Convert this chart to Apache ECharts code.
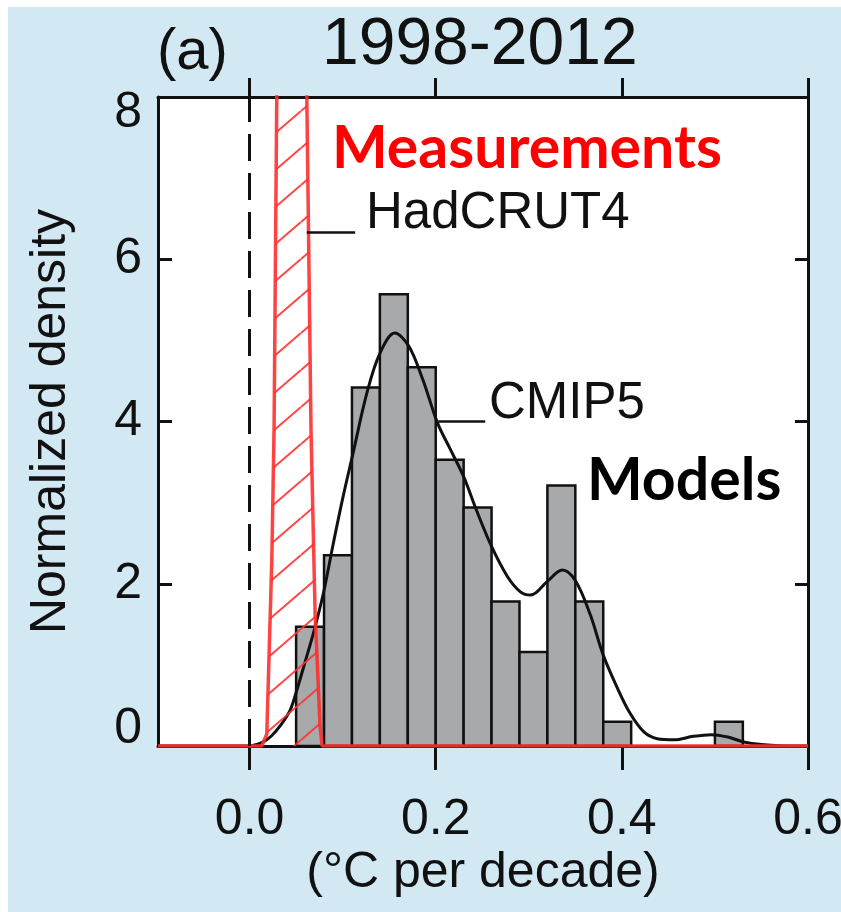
<!DOCTYPE html>
<html>
<head>
<meta charset="utf-8">
<script src="https://cdn.jsdelivr.net/npm/echarts@6/dist/echarts.min.js"></script>
<style>
  html, body { margin: 0; padding: 0; background: #fff; }
  #chart {
    width: 841px; height: 912px;
    background: linear-gradient(#d2e8f2, #d2e8f2) 8px 7px / 833px 905px no-repeat, #fff;
  }
</style>
</head>
<body>
<div id="chart"></div>
<script>
// CMIP5 trend histogram: left bin edges (°C per decade) and normalized densities
const binStarts  = [0.05, 0.08, 0.11, 0.14, 0.17, 0.20, 0.23, 0.26, 0.29, 0.32, 0.35, 0.38, 0.41, 0.44, 0.47, 0.50];
const binWidth   = 0.03;
const binDensity = [1.47, 2.35, 4.42, 5.57, 4.67, 3.53, 2.94, 1.78, 1.16, 3.21, 1.78, 0.30, 0, 0, 0, 0.30];

// smoothed CMIP5 density
const cmipTrend   = [-0.098, 0.000, 0.008, 0.016, 0.024, 0.033, 0.0435, 0.050, 0.060, 0.070, 0.080, 0.090, 0.100, 0.111, 0.126, 0.140, 0.156, 0.171, 0.186, 0.202, 0.216, 0.230, 0.244, 0.260, 0.277, 0.291, 0.302, 0.320, 0.336, 0.350, 0.366, 0.380, 0.395, 0.409, 0.424, 0.438, 0.456, 0.477, 0.496, 0.514, 0.531, 0.550, 0.585, 0.600];
const cmipDensity = [0, 0, 0.02, 0.06, 0.13, 0.25, 0.44, 0.66, 1.05, 1.45, 1.92, 2.50, 3.05, 3.60, 4.35, 4.84, 5.09, 4.93, 4.52, 3.98, 3.65, 3.32, 2.90, 2.46, 2.09, 1.90, 1.86, 2.03, 2.17, 2.04, 1.62, 1.12, 0.72, 0.40, 0.17, 0.09, 0.076, 0.12, 0.14, 0.11, 0.05, 0.02, 0, 0];

// HadCRUT4 trend density (runs off the top of the panel)
const hadTrend   = [-0.0984, 0.0131, 0.0185, 0.0239, 0.0263, 0.0292, 0.0296, 0.0608, 0.0615, 0.0660, 0.0704, 0.0758, 0.0780, 0.600];
const hadDensity = [0, 0, 0.15, 2.30, 3.90, 8.00, 8.60, 8.60, 8.00, 3.90, 1.63, 0.23, 0, 0];

// label leader lines
const hadLeaderX  = [0.0615, 0.1134];
const hadLeaderY  = [6.33, 6.33];
const cmipLeaderX = [0.2027, 0.2532];
const cmipLeaderY = [4.00, 4.00];

// axes
const xMin = -0.0984, xMax = 0.6;
const xTicks = [0.0, 0.2, 0.4, 0.6];
const yMin = 0, yMax = 8, yStep = 2;

const INK = '#111';
const AXIS_FONT = '"Liberation Sans", Arial, sans-serif';
const BOLD_FONT = 'Lato, "Open Sans", sans-serif';
const FRAME_W = 3;

// diagonal red hatching for the HadCRUT4 area
function hatchTile() {
  const W = 43, H = 37;
  const c = document.createElement('canvas');
  c.width = W; c.height = H;
  const g = c.getContext('2d');
  g.strokeStyle = 'rgba(255,50,50,0.9)';
  g.lineWidth = 2;
  for (const k of [-1, 0, 1]) {
    g.beginPath();
    g.moveTo(0, H * (1 + k));
    g.lineTo(W, H * k);
    g.stroke();
  }
  return c;
}

const zip = (xs, ys) => xs.map((x, i) => [x, ys[i]]);

const chart = echarts.init(document.getElementById('chart'), null, { renderer: 'canvas' });

const frameLine = { show: true, onZero: false, lineStyle: { color: INK, width: FRAME_W } };

const option = {
  animation: false,
  backgroundColor: 'transparent',
  grid: {
    left: 158, right: 33, top: 97, bottom: 166,
    show: true, backgroundColor: '#fff', borderWidth: 0,
    containLabel: false, outerBoundsMode: 'none'
  },
  xAxis: [
    {
      type: 'value', position: 'bottom', min: xMin, max: xMax,
      name: '(°C per decade)', nameLocation: 'middle', nameGap: 102,
      nameMoveOverlap: false,
      nameTextStyle: { fontFamily: AXIS_FONT, fontSize: 50, color: INK },
      axisLine: frameLine,
      axisTick: { show: true, customValues: xTicks, length: 24, lineStyle: { color: INK, width: FRAME_W } },
      axisLabel: {
        show: true, customValues: xTicks, margin: 49,
        formatter: v => v.toFixed(1),
        fontFamily: AXIS_FONT, fontSize: 50, color: INK
      },
      splitLine: { show: false }
    },
    {
      type: 'value', position: 'top', min: xMin, max: xMax,
      axisLine: frameLine,
      axisTick: { show: true, customValues: xTicks, length: 19, lineStyle: { color: INK, width: FRAME_W } },
      axisLabel: { show: false },
      splitLine: { show: false }
    }
  ],
  yAxis: [
    {
      type: 'value', position: 'left', min: yMin, max: yMax, interval: yStep,
      name: 'Normalized density', nameLocation: 'middle', nameGap: 82, nameRotate: 90,
      nameMoveOverlap: false,
      nameTextStyle: { fontFamily: AXIS_FONT, fontSize: 50, color: INK },
      axisLine: frameLine,
      axisTick: { show: true, inside: true, length: 14, lineStyle: { color: INK, width: FRAME_W } },
      axisLabel: {
        show: true, margin: 16,
        formatter: v => v === yMax ? '{hi|' + v + '}' : v === yMin ? '{lo|' + v + '}' : '{n|' + v + '}',
        rich: {
          n:  { fontFamily: AXIS_FONT, fontSize: 50, color: INK },
          hi: { fontFamily: AXIS_FONT, fontSize: 50, color: INK, padding: [32, 0, 0, 0] },
          lo: { fontFamily: AXIS_FONT, fontSize: 50, color: INK, padding: [0, 0, 34, 0] }
        }
      },
      splitLine: { show: false }
    },
    {
      type: 'value', position: 'right', min: yMin, max: yMax, interval: yStep,
      axisLine: frameLine,
      axisTick: { show: true, inside: true, length: 13, lineStyle: { color: INK, width: FRAME_W } },
      axisLabel: { show: false },
      splitLine: { show: false }
    }
  ],
  series: [
    {
      name: 'CMIP5 histogram',
      type: 'custom',
      xAxisIndex: 0, yAxisIndex: 0,
      z: 2,
      encode: { x: 0, y: 1 },
      data: zip(binStarts, binDensity),
      renderItem: (params, api) => {
        const x0 = api.value(0), h = api.value(1);
        if (!h) return { type: 'group', children: [] };
        const p0 = api.coord([x0, h]);
        const p1 = api.coord([x0 + binWidth, 0]);
        return {
          type: 'rect',
          shape: { x: p0[0], y: p0[1], width: p1[0] - p0[0], height: p1[1] - p0[1] },
          style: { fill: '#a7a9ab', stroke: INK, lineWidth: 2.5 }
        };
      }
    },
    {
      name: 'CMIP5',
      type: 'line',
      z: 3,
      data: zip(cmipTrend, cmipDensity),
      smooth: 0.35,
      symbol: 'none',
      lineStyle: { color: INK, width: 3 },
      markLine: {
        silent: true, symbol: 'none', animation: false,
        label: { show: false },
        lineStyle: { color: INK, width: 3, type: [27, 12] },
        data: [{ xAxis: 0 }]
      }
    },
    {
      name: 'HadCRUT4',
      type: 'line',
      z: 4,
      data: zip(hadTrend, hadDensity),
      symbol: 'none',
      clip: true,
      lineStyle: { color: 'rgba(255,45,45,0.9)', width: 3.5 },
      areaStyle: { color: { image: hatchTile(), repeat: 'repeat' }, opacity: 1 }
    },
    {
      name: 'HadCRUT4 leader',
      type: 'line', z: 5, symbol: 'none',
      data: zip(hadLeaderX, hadLeaderY),
      lineStyle: { color: INK, width: 2.5 }
    },
    {
      name: 'CMIP5 leader',
      type: 'line', z: 5, symbol: 'none',
      data: zip(cmipLeaderX, cmipLeaderY),
      lineStyle: { color: INK, width: 2.5 }
    }
  ],
  graphic: [
    { type: 'text', x: 157, y: 53, z: 10,
      style: { text: '(a)', font: '58px ' + AXIS_FONT, fill: INK, align: 'left', verticalAlign: 'middle' } },
    { type: 'text', x: 322, y: 46, z: 10,
      style: { text: '1998-2012', font: '66px ' + AXIS_FONT, fill: INK, align: 'left', verticalAlign: 'middle' } },
    { type: 'text', x: 366, y: 214, z: 10,
      style: { text: 'HadCRUT4', font: '51px ' + AXIS_FONT, fill: INK, align: 'left', verticalAlign: 'middle' } },
    { type: 'text', x: 489, y: 404, z: 10,
      style: { text: 'CMIP5', font: '51px ' + AXIS_FONT, fill: INK, align: 'left', verticalAlign: 'middle' } },
    { type: 'text', x: 332, y: 149, z: 10,
      style: { text: 'Measurements', font: 'bold 59px ' + BOLD_FONT, fill: '#ff0000', align: 'left', verticalAlign: 'middle' } },
    { type: 'text', x: 587, y: 481, z: 10,
      style: { text: 'Models', font: 'bold 59px ' + BOLD_FONT, fill: '#000', align: 'left', verticalAlign: 'middle' } }
  ]
};

chart.setOption(option);
</script>
</body>
</html>
